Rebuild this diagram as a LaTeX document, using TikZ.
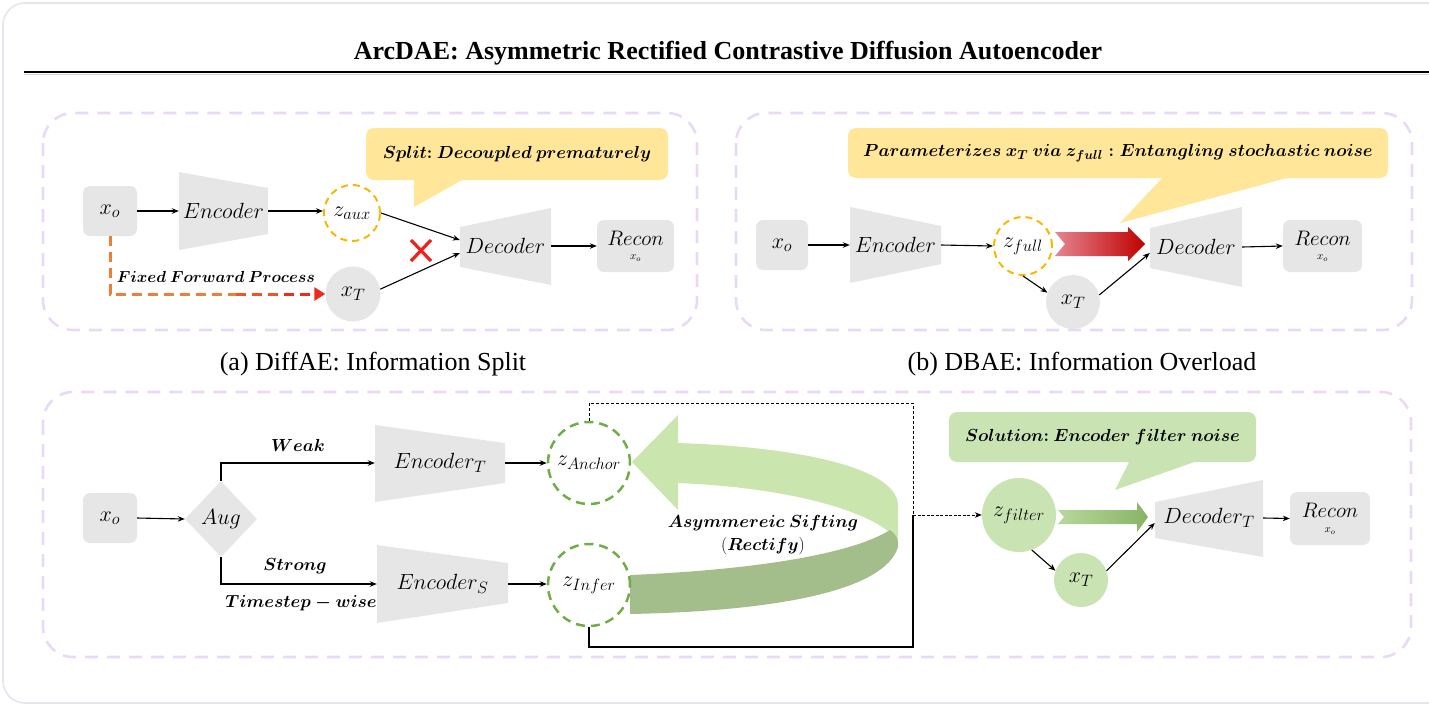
\RequirePackage{fix-cm}
\documentclass[tikz,border=0pt]{standalone}
\usepackage{fontspec}
\setmainfont{Liberation Serif}
\usetikzlibrary{arrows.meta,shapes.geometric}
\DeclareMathSizes{22}{22}{16.5}{12}
\DeclareMathSizes{17.5}{17.5}{13}{10}
\DeclareMathSizes{16}{16}{12}{9}
\DeclareMathSizes{21}{21}{15.5}{11}
\DeclareMathSizes{11}{11}{8}{6}
\definecolor{boxgrey}{HTML}{E6E6E6}
\definecolor{lav}{HTML}{E8DAF7}
\definecolor{framegrey}{HTML}{E6E4EC}
\definecolor{bubyel}{HTML}{FFE699}
\definecolor{gold}{HTML}{F7B900}
\definecolor{dgreen}{HTML}{70AD47}
\definecolor{lgreen}{HTML}{C9E4B2}
\definecolor{bandlight}{HTML}{CAE5AE}
\definecolor{banddark}{HTML}{A3BD8B}
\definecolor{xred}{HTML}{F0201A}
\definecolor{ffporange}{HTML}{EE7D35}
\definecolor{ffpmid}{HTML}{EE5428}
\definecolor{ffpred}{HTML}{EE2A1F}
\definecolor{redL}{HTML}{E58590}
\definecolor{redD}{HTML}{C00000}
\definecolor{gL}{HTML}{B7D89C}
\definecolor{gD}{HTML}{88B466}
\newcommand{\mfont}{\fontsize{22}{26}\selectfont}
\newcommand{\bfont}{\fontsize{17.5}{20}\selectfont\boldmath}
\tikzset{
  conn/.style={-{Stealth[length=7pt,width=5.5pt]}, line width=1.1pt},
  gbox/.style={fill=boxgrey, rounded corners=7pt, inner sep=0pt, font=\mfont},
  trapnode/.style={inner sep=0pt, font=\mfont},
  panel/.style={draw=lav, line width=2.6pt, dash pattern=on 13pt off 9pt, rounded corners=30pt},
  zgold/.style={circle, draw=gold, line width=2pt, dash pattern=on 7pt off 5pt, minimum size=56pt, inner sep=0pt, font=\mfont},
  zgreen/.style={circle, draw=dgreen, line width=2.5pt, dash pattern=on 9pt off 6pt, minimum size=82pt, inner sep=0pt, font=\mfont},
  gcirc/.style={circle, fill=boxgrey, inner sep=0pt, font=\mfont},
  lgcirc/.style={circle, fill=lgreen, inner sep=0pt, font=\mfont},
  bubble/.style={rounded corners=8pt, inner sep=0pt, font=\bfont},
  lbl/.style={font=\bfont, inner sep=0pt},
  captxt/.style={font=\fontsize{26}{30}\selectfont, inner sep=0pt},
  rtxt/.style={font=\fontsize{21}{24}\selectfont, inner sep=0pt},
  rsub/.style={font=\fontsize{11}{12}\selectfont, inner sep=0pt},
  ffp/.style={line width=3pt, dash pattern=on 10pt off 6pt},
}
\begin{document}
\begin{tikzpicture}[x=1pt,y=-1pt]
\useasboundingbox (0,0) rectangle (1429,705);
% outer frame
\draw[framegrey, line width=1.6pt, rounded corners=22pt] (3,3) rectangle (1470,703);
% title
\node[font=\fontsize{26}{30}\selectfont\bfseries, inner sep=0pt] (title) at (728,53) {ArcDAE: Asymmetric Rectified Contrastive Diffusion Autoencoder};
\draw[black!15, line width=1pt] (24,74.5) -- (1429,74.5);
\draw[line width=2.6pt] (24,72) -- (1429,72);

% ================= panel (a)
\draw[panel] (43,113) rectangle (697,330);
\node[bubble, fill=bubyel, minimum width=302pt, minimum height=52pt] (a-note) at (517,154) {$Split{:}\ Decoupled\ prematurely$};
\fill[bubyel] (414,172) -- (414,207) -- (476,172) -- cycle;
\node[gbox, minimum width=54pt, minimum height=50pt] (a-xo) at (110,211) {$x_o$};
\fill[boxgrey] (179,172) -- (268,188) -- (268,234) -- (179,250) -- cycle;
\node[trapnode, minimum width=89pt, minimum height=40pt] (a-enc) at (223.5,211) {$Encoder$};
\node[zgold] (a-zaux) at (352,213) {$z_{aux}$};
\node[gcirc, minimum size=55pt] (a-xt) at (353,294) {$x_T$};
\fill[boxgrey] (460,227) -- (551,208) -- (551,285) -- (460,267) -- cycle;
\node[trapnode, minimum width=91pt, minimum height=40pt] (a-dec) at (505.5,246) {$Decoder$};
\node[gbox, minimum width=77pt, minimum height=52pt] (a-rec) at (635.5,246) {};
\node[rtxt] (a-rect) at (635.5,238) {$Recon$};
\node[rsub] (a-recs) at (635.5,258) {$x_o$};
\draw[conn] (a-xo.east) -- (a-enc.west);
\draw[conn] (a-enc.east) -- (a-enc.east -| a-zaux.west);
\draw[conn] (a-zaux.east) -- ([yshift=6pt]a-dec.west);
\draw[conn] (a-xt.10) -- ([yshift=-7pt]a-dec.west);
\draw[conn] (a-dec.east) -- (a-rec.west);
\draw[xred, line width=3.2pt] (411,240) -- (431,261) (411,261) -- (431,240);
\coordinate (a-m1) at (236,294);
\coordinate (a-m2) at (284,294);
\draw[ffp, ffporange] (a-xo.south) |- (a-m1);
\draw[ffp, ffpmid] (a-m1) -- (a-m2);
\draw[ffp, ffpred, -{Triangle[length=11pt,width=13pt]}] (a-m2) -- (a-xt.west);
\node[lbl, font=\fontsize{16}{18}\selectfont\boldmath] (a-ffp) at (216,277) {$Fixed\ Forward\ Process$};

% ================= panel (b)
\draw[panel] (736,113) rectangle (1412,330);
\node[bubble, fill=bubyel, minimum width=540pt, minimum height=50pt] (b-note) at (1118,153) {$Parameterizes\ x_T\ via\ z_{full}: Entangling\ stochastic\ noise$};
\fill[bubyel] (1164,176) -- (1294,176) -- (1120,223) -- cycle;
\node[gbox, minimum width=52pt, minimum height=50pt] (b-xo) at (782,245) {$x_o$};
\fill[boxgrey] (850,207) -- (941,226) -- (941,264) -- (850,283) -- cycle;
\node[trapnode, minimum width=91pt, minimum height=38pt] (b-enc) at (895.5,245) {$Encoder$};
\node[zgold, minimum size=58pt] (b-zfull) at (1023,246) {$z_{full}$};
\shade[left color=redL, right color=redD] (1055,232) -- (1128,232) -- (1128,227) -- (1145,244) -- (1128,261) -- (1128,256) -- (1055,256) -- (1065,244) -- cycle;
\fill[boxgrey] (1150,228) -- (1242,207) -- (1242,287) -- (1150,268) -- cycle;
\node[trapnode, minimum width=92pt, minimum height=40pt] (b-dec) at (1196,247) {$Decoder$};
\node[gbox, minimum width=79pt, minimum height=52pt] (b-rec) at (1322.5,246) {};
\node[rtxt] (b-rect) at (1322.5,238) {$Recon$};
\node[rsub] (b-recs) at (1322.5,258) {$x_o$};
\node[gcirc, minimum size=54pt] (b-xt) at (1073,302) {$x_T$};
\draw[conn] (b-xo.east) -- (b-enc.west);
\draw[conn] (b-enc.east) -- (b-zfull.west);
\draw[conn] (b-zfull.south) -- (b-xt.160);
\draw[conn] (b-xt.15) -- ([yshift=-6pt]b-dec.west);
\draw[conn] (b-dec.east) -- (b-rec.west);

% captions
\node[captxt] (capa) at (373,364) {(a) DiffAE: Information Split};
\node[captxt] (capb) at (1082,364) {(b) DBAE: Information Overload};

% ================= panel (c)
\draw[panel] (43,392) rectangle (1411,657);
\node[gbox, minimum width=54pt, minimum height=50pt] (c-xo) at (110,518) {$x_o$};
\node[diamond, fill=boxgrey, minimum width=72pt, minimum height=76pt, inner sep=0pt, font=\mfont] (c-aug) at (221,519) {$Aug$};
\fill[boxgrey] (375,425) -- (505,443) -- (505,483) -- (375,502) -- cycle;
\node[trapnode, minimum width=130pt, minimum height=40pt] (c-enct) at (440,463) {$Encoder_T$};
\fill[boxgrey] (377,545) -- (508,563) -- (508,603) -- (377,623) -- cycle;
\node[trapnode, minimum width=131pt, minimum height=40pt] (c-encs) at (442.5,584) {$Encoder_S$};
% ribbon
\fill[bandlight] (632,462) -- (678,415) -- (678,443) .. controls (800,447) and (897,468) .. (898,505) -- (898,541) .. controls (880,515) and (800,488) .. (678,483) -- (678,510) -- cycle;
\fill[banddark] (630,575) .. controls (750,570) and (850,555) .. (890,530) .. controls (896,534) and (899,540) .. (898,547) .. controls (885,590) and (780,611) .. (630,614) -- cycle;
\node[lbl] (c-asym) at (763,523) {$Asymmereic\ Sifting$};
\node[lbl] (c-rectify) at (763,546) {{\unboldmath$($}$Rectify${\unboldmath$)$}};
\node[zgreen] (c-anchor) at (589,463) {$z_{Anchor}$};
\node[zgreen] (c-infer) at (589,585) {$z_{Infer}$};
\node[lbl] (c-weak) at (298,445) {$Weak$};
\node[lbl] (c-strong) at (295,566) {$Strong$};
\node[lbl] (c-tw) at (301,603) {$Timestep-wise$};
\draw[conn] (c-xo.east) -- (c-aug.west);
\draw[conn] (c-aug.north) |- (c-enct.west);
\draw[conn] (c-aug.south) |- (c-encs.west);
\draw[conn] (c-enct.east) -- (c-anchor.west);
\draw[conn] (c-encs.east) -- (c-encs.east -| c-infer.west);
% right part
\node[bubble, fill=lgreen, minimum width=307pt, minimum height=50pt] (c-note) at (1102.5,437) {$Solution{:}\ Encoder\ filter\ noise$};
\fill[lgreen] (1130,460) -- (1200,460) -- (1115,490) -- cycle;
\node[lgcirc, minimum size=74pt] (c-filter) at (1019,515) {$z_{filter}$};
\shade[left color=gL, right color=gD] (1058,510) -- (1137,510) -- (1137,502) -- (1148,517) -- (1137,532) -- (1137,524) -- (1058,524) -- (1064,517) -- cycle;
\fill[boxgrey] (1155,502) -- (1263,480) -- (1263,557) -- (1155,538) -- cycle;
\node[trapnode, minimum width=108pt, minimum height=36pt] (c-dec) at (1209,518) {$Decoder_T$};
\node[gbox, minimum width=80pt, minimum height=53pt] (c-rec) at (1330,518.5) {};
\node[rtxt] (c-rect) at (1330,510) {$Recon$};
\node[rsub] (c-recs) at (1330,531) {$x_o$};
\node[lgcirc, minimum size=54pt] (c-xt) at (1081,580) {$x_T$};
\coordinate (c-j) at (913,515);
\coordinate (c-tr) at (913,403);
\coordinate (c-br) at (913,647);
\draw[line width=0.9pt, dash pattern=on 3pt off 2pt] (c-anchor.north) |- (c-tr) -- (c-j);
\draw[line width=1.2pt] (c-infer.south) |- (c-br) -- (c-j);
\draw[conn, line width=1pt, dash pattern=on 3pt off 1.5pt] (c-j) -- (c-filter.west);
\draw[conn] (c-filter.-70) -- (c-xt.160);
\draw[conn] (c-xt.20) -- ([yshift=-5pt]c-dec.west);
\draw[conn] (c-dec.east) -- (c-rec.west);
\end{tikzpicture}
\end{document}
